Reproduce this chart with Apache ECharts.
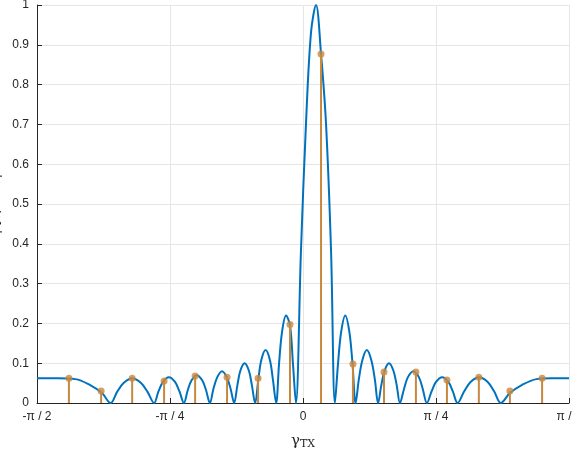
<!DOCTYPE html><html><head><meta charset="utf-8">
<script src="https://cdn.jsdelivr.net/npm/echarts@6/dist/echarts.min.js"></script>
<style>html,body{margin:0;padding:0;background:#fff}#c{width:572px;height:450px}</style></head><body><div id="c"></div>
<script>
// curve samples: gamma in degrees, |q| value
const curveX = [-90,-83,-77,-72,-68,-65.1,
 -62.9,-60.7,-57.75,-54.8,-52.6,-50.4,
 -48.9,-47.4,-45.35,-43.3,-41.8,-40.3,
 -39.0,-37.7,-35.9,-34.1,-32.8,-31.5,
 -30.3,-29.0,-27.4,-25.8,-24.5,-23.3,
 -22.2,-21.2,-19.75,-18.3,-17.3,-16.2,
 -15.1,-14.1,-12.65,-11.2,-10.2,-9.1,
 -8.1,-7.1,-5.75,-4.4,-3.4,-2.4,
 -0.7,1,2.7,4.4,6.1,7.8,9.5,10.8,
 11.85,12.9,14.3,15.7,16.75,17.8,
 18.9,20.1,21.6,23.1,24.3,25.4,
 26.5,27.6,29.1,30.6,31.7,32.8,
 34.2,35.5,37.35,39.2,40.5,41.9,
 43.5,45.0,47.1,49.2,50.7,52.3,
 54.5,56.7,59.6,62.5,64.7,66.9,
 70,74,79,84,90];
const curveY = [0.062,0.062,0.06,0.045,0.025,0,
 0.028,0.050,0.062,0.050,0.028,0,
 0.029,0.053,0.065,0.053,0.029,0,
 0.032,0.057,0.070,0.057,0.032,0,
 0.036,0.065,0.080,0.065,0.036,0,
 0.045,0.081,0.100,0.081,0.045,0,
 0.060,0.108,0.133,0.108,0.060,0,
 0.099,0.178,0.220,0.195,0.099,0,
 0.38,0.70,0.93,1.0,0.877,0.70,0.38,0,
 0.099,0.178,0.220,0.178,0.099,0,
 0.060,0.108,0.133,0.108,0.060,0,
 0.045,0.081,0.100,0.081,0.045,0,
 0.036,0.065,0.080,0.065,0.036,0,
 0.029,0.053,0.065,0.053,0.029,0,
 0.029,0.053,0.065,0.053,0.029,0,
 0.025,0.045,0.06,0.062,0.062];
const stemX = [-79.2,-68.3,-57.8,-47.0,-36.5,-25.7,-15.2,-4.4,6.1,16.9,27.4,38.2,48.7,59.5,70.0,80.9];
const stemY = [0.062,0.03,0.062,0.055,0.068,0.065,0.062,0.197,0.877,0.098,0.078,0.078,0.058,0.065,0.03,0.062];
const xTicks = {'-90':'-π / 2','-45':'-π / 4','0':'0','45':'π / 4','90':'π / 2'};

const curve = curveX.map((x,i)=>[x,curveY[i]]);
const stems = stemX.map((x,i)=>[x,stemY[i]]);
const stemCol = '#c8873e';
const chart = echarts.init(document.getElementById('c'));
chart.setOption({
  animation:false,
  textStyle:{fontFamily:'Liberation Sans, Arial'},
  grid:{left:37,right:3,top:5,bottom:47,containLabel:false,outerBoundsMode:'none'},
  xAxis:{type:'value',min:-90,max:90,interval:45,
    axisLabel:{formatter:v=>xTicks[String(v)]||'',color:'#262626',fontSize:12,margin:8},
    axisLine:{onZero:false,lineStyle:{color:'#262626'}},axisTick:{show:true,inside:true,lineStyle:{color:'#262626'}},
    splitLine:{show:true,lineStyle:{color:'#e6e6e6'}},
    name:'{g|γ}{s|TX}',nameLocation:'middle',nameGap:30,
    nameTextStyle:{rich:{g:{fontSize:15,fontFamily:'DejaVu Serif',color:'#262626'},s:{fontSize:11,fontFamily:'DejaVu Serif',color:'#262626',padding:[6,0,0,0]}}}},
  yAxis:{type:'value',min:0,max:1,interval:0.1,
    axisLabel:{formatter:v=>String(Math.round(v*10)/10),color:'#262626',fontSize:12},
    axisLine:{show:true,onZero:false,lineStyle:{color:'#262626'}},axisTick:{show:true,inside:true,lineStyle:{color:'#262626'}},
    splitLine:{show:true,lineStyle:{color:'#e6e6e6'}},
    name:'|{i|q}({i|ϕ}{s|LOS})|',nameLocation:'middle',nameGap:24,nameRotate:90,
    nameTextStyle:{fontSize:14,fontFamily:'DejaVu Serif',color:'#262626',rich:{i:{fontStyle:'italic',fontSize:14,fontFamily:'DejaVu Serif',color:'#262626'},s:{fontSize:10,fontFamily:'DejaVu Serif',color:'#262626'}}}},
  series:[
    {type:'line',data:curve,smooth:0.35,showSymbol:false,lineStyle:{color:'#0072BD',width:2},z:2},
    {type:'bar',data:stems,barWidth:2,itemStyle:{color:stemCol},z:3},
    {type:'scatter',data:stems,symbolSize:7,itemStyle:{color:stemCol},z:4}
  ]
});
</script></body></html>
